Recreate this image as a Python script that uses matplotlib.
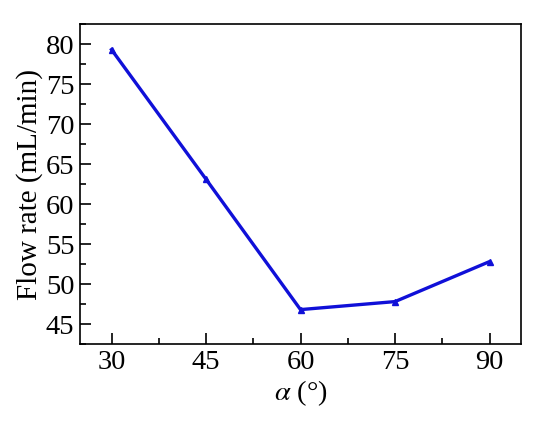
import matplotlib
matplotlib.use("Agg")
import matplotlib.pyplot as plt
from matplotlib.ticker import MultipleLocator

alpha = [30, 45, 60, 75, 90]
flow = [79.3, 63.1, 46.8, 47.8, 52.8]
xticks = [30, 45, 60, 75, 90]
yticks = [45, 50, 55, 60, 65, 70, 75, 80]

plt.rcParams['font.family'] = ['Liberation Serif', 'DejaVu Serif']
plt.rcParams['mathtext.fontset'] = 'stix'

fig = plt.figure(figsize=(5.5, 4.24), dpi=100)
ax = fig.add_axes([80/550, 1-344/424, (521-80)/550, (344-24)/424])
ax.plot(alpha, flow, color='#1010d8', lw=2.4, marker='^', ms=5)
ax.set_xlim(25, 95)
ax.set_ylim(42.5, 82.5)
ax.set_xticks(xticks)
ax.set_yticks(yticks)
ax.xaxis.set_minor_locator(MultipleLocator(7.5))
ax.yaxis.set_minor_locator(MultipleLocator(2.5))
ax.tick_params(which='both', direction='in', top=False, right=False, labelsize=20.5, width=1.2, pad=4)
ax.tick_params(which='major', length=8)
ax.tick_params(which='minor', length=4)
for s in ax.spines.values():
    s.set_linewidth(1.2)
ax.set_xlabel(r'$\alpha$ (°)', fontsize=20.5, labelpad=3)
ax.set_ylabel('Flow rate (mL/min)', fontsize=21, labelpad=2)
fig.savefig('out.png', dpi=100)
